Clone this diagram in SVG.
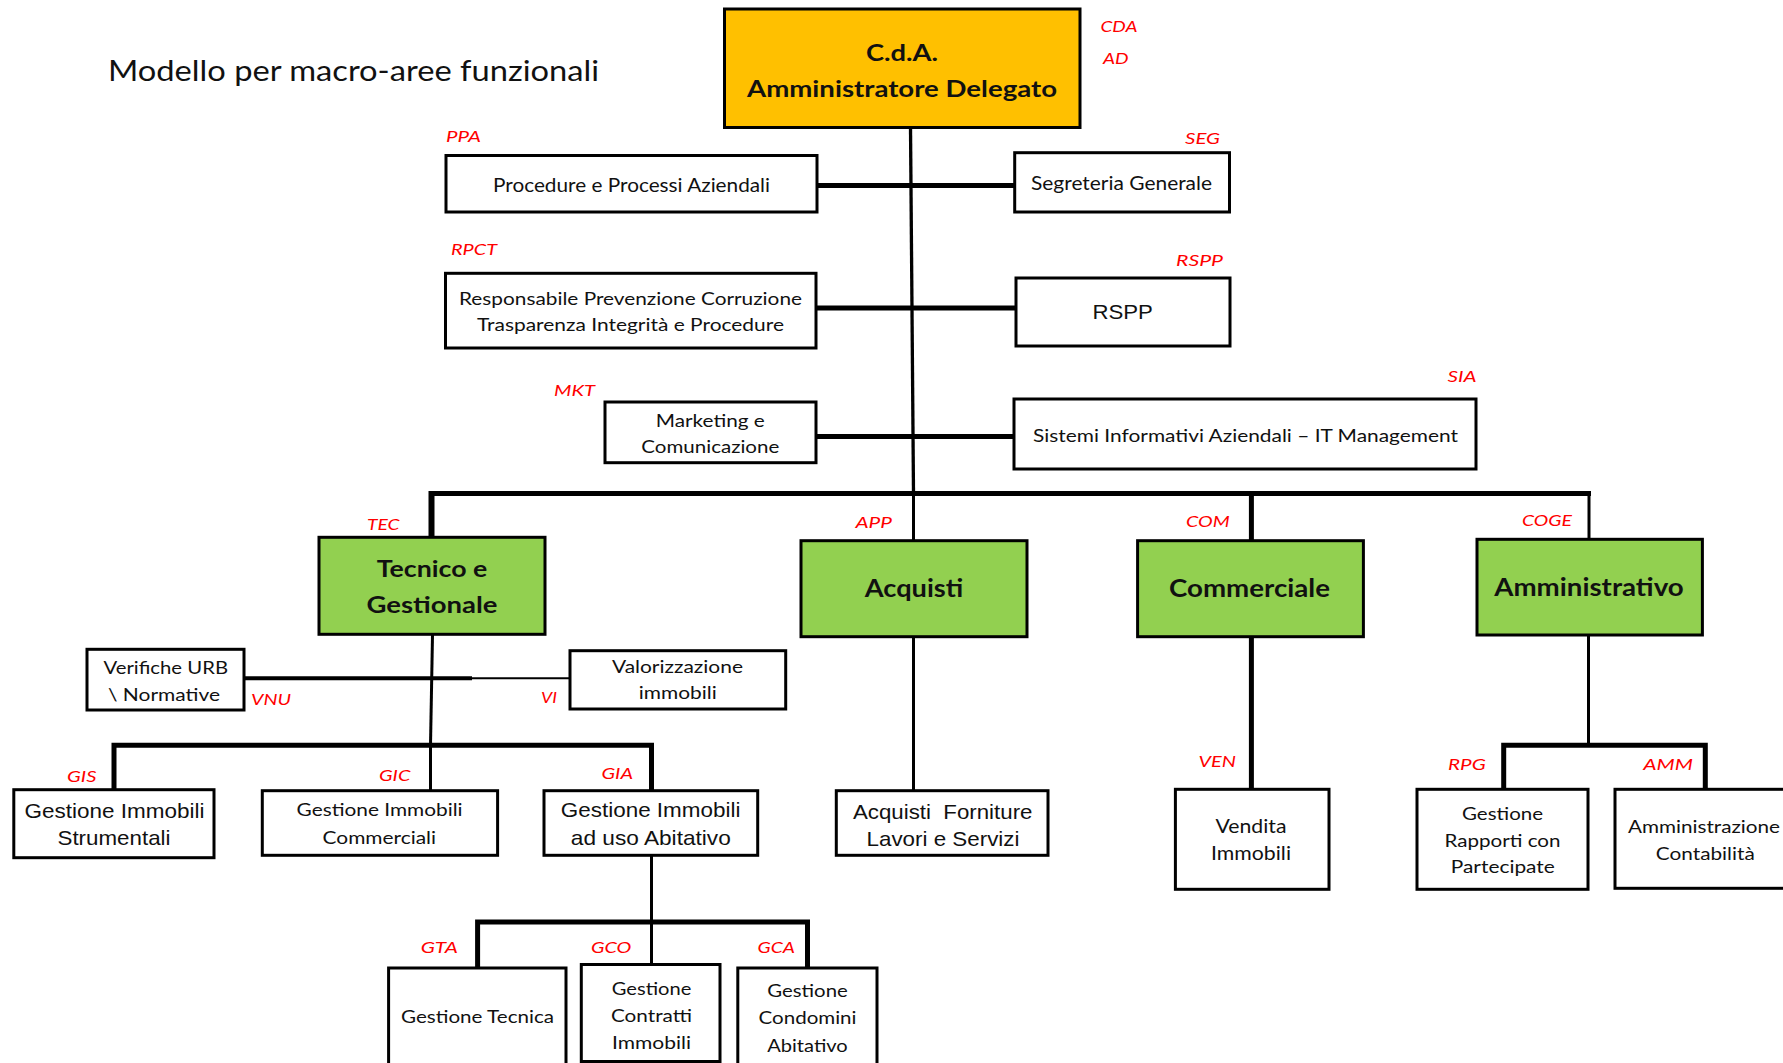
<svg xmlns="http://www.w3.org/2000/svg" width="1783" height="1063" viewBox="0 0 1783 1063">
<style>
.box{fill:#fff;stroke:#000;stroke-width:3}
.gold{fill:#FFC000;stroke:#000;stroke-width:3}
.green{fill:#92D050;stroke:#000;stroke-width:3}
.c{stroke:#000;fill:none;stroke-linejoin:miter;stroke-linecap:butt}
.t{font-family:Lato,"Open Sans","Liberation Sans",sans-serif;fill:#111;text-anchor:middle;lengthAdjust:spacingAndGlyphs}
.a{font-family:"Liberation Sans",Arial,sans-serif;fill:#111;text-anchor:middle}
.b{font-weight:bold}
.lbl{font-family:Lato,"Open Sans","Liberation Sans",sans-serif;font-style:italic;font-size:16px;fill:#FF0000}
</style>
<rect width="1783" height="1063" fill="#fff"/>
<text x="108" y="80.7" font-family="Lato, 'Open Sans', sans-serif" font-size="29" fill="#111" textLength="491" lengthAdjust="spacingAndGlyphs">Modello per macro-aree funzionali</text>

<g id="connectors">
  <path class="c" stroke-width="3.3" d="M910.5,127 L913.5,493"/>
  <path class="c" stroke-width="5" d="M816,185.5 H1015"/>
  <path class="c" stroke-width="5" d="M816,308 H1016"/>
  <path class="c" stroke-width="5" d="M816,436.5 H1014"/>
  <path class="c" stroke-width="5" d="M431,537 V493.5 H1591"/>
  <path class="c" stroke-width="4" d="M432.5,493.5 V537"/>
  <path class="c" stroke-width="3" d="M913.5,493.5 V541"/>
  <path class="c" stroke-width="5" d="M1251.4,493.5 V541"/>
  <path class="c" stroke-width="3" d="M1589,493.5 V539"/>
  <path class="c" stroke-width="3" d="M432.5,635 L430.5,745"/>
  <path class="c" stroke-width="4" d="M244,678.3 H472"/>
  <path class="c" stroke-width="2" stroke="#333" d="M472,678.3 H570"/>
  <path class="c" stroke-width="5" d="M114,790 V745.2 H651.5 V790"/>
  <path class="c" stroke-width="3" d="M430.5,745 V791"/>
  <path class="c" stroke-width="3" d="M651.5,855 V922"/>
  <path class="c" stroke-width="5" d="M477.6,968 V922 H807.5 V968"/>
  <path class="c" stroke-width="3" d="M651.5,922 V965"/>
  <path class="c" stroke-width="3" d="M913.5,637 V791"/>
  <path class="c" stroke-width="5" d="M1251.4,637 V789"/>
  <path class="c" stroke-width="3" d="M1588.5,635 V745"/>
  <path class="c" stroke-width="5" d="M1503.7,789 V745.2 H1705.3 V789"/>
</g>

<g id="cda">
  <rect class="gold" x="724.5" y="9" width="355.5" height="118.5"/>
  <text class="t b" x="902" y="60.7" font-size="23" textLength="72" lengthAdjust="spacingAndGlyphs">C.d.A.</text>
  <text class="t b" x="902" y="96.7" font-size="23" textLength="310" lengthAdjust="spacingAndGlyphs">Amministratore Delegato</text>
  <text class="lbl" x="1100.4" y="32" textLength="37" lengthAdjust="spacingAndGlyphs">CDA</text>
  <text class="lbl" x="1103" y="64" textLength="25.6" lengthAdjust="spacingAndGlyphs">AD</text>
</g>
<g id="ppa">
  <rect class="box" x="446" y="155.5" width="371" height="56.5"/>
  <text class="t" x="631.5" y="191.7" font-size="19" textLength="277" lengthAdjust="spacingAndGlyphs">Procedure e Processi Aziendali</text>
  <text class="lbl" x="446" y="141.7" textLength="35" lengthAdjust="spacingAndGlyphs">PPA</text>
</g>
<g id="seg">
  <rect class="box" x="1014.7" y="152.7" width="214.8" height="59.3"/>
  <text class="t" x="1121.5" y="190" font-size="18.5" textLength="181" lengthAdjust="spacingAndGlyphs">Segreteria Generale</text>
  <text class="lbl" x="1185" y="144" textLength="35" lengthAdjust="spacingAndGlyphs">SEG</text>
</g>
<g id="rpct">
  <rect class="box" x="445.5" y="273.3" width="370.5" height="74.7"/>
  <text class="t" x="630.5" y="305" font-size="17.5" textLength="343" lengthAdjust="spacingAndGlyphs">Responsabile Prevenzione Corruzione</text>
  <text class="t" x="630.5" y="330.7" font-size="17.5" textLength="307" lengthAdjust="spacingAndGlyphs">Trasparenza Integrità e Procedure</text>
  <text class="lbl" x="451" y="255" textLength="46" lengthAdjust="spacingAndGlyphs">RPCT</text>
</g>
<g id="rspp">
  <rect class="box" x="1016" y="278" width="214" height="68"/>
  <text class="a" x="1122.7" y="319" font-size="20" textLength="60.5" lengthAdjust="spacingAndGlyphs">RSPP</text>
  <text class="lbl" x="1176" y="265.7" textLength="47" lengthAdjust="spacingAndGlyphs">RSPP</text>
</g>
<g id="mkt">
  <rect class="box" x="605" y="402" width="211" height="60.7"/>
  <text class="t" x="710.3" y="426.7" font-size="17" textLength="109" lengthAdjust="spacingAndGlyphs">Marketing e</text>
  <text class="t" x="710.3" y="453.3" font-size="17" textLength="138" lengthAdjust="spacingAndGlyphs">Comunicazione</text>
  <text class="lbl" x="554" y="395.7" textLength="41" lengthAdjust="spacingAndGlyphs">MKT</text>
</g>
<g id="sia">
  <rect class="box" x="1014" y="399" width="462" height="70"/>
  <text class="t" x="1245.5" y="441.7" font-size="17.5" textLength="425" lengthAdjust="spacingAndGlyphs">Sistemi Informativi Aziendali – IT Management</text>
  <text class="lbl" x="1447.5" y="381.7" textLength="29" lengthAdjust="spacingAndGlyphs">SIA</text>
</g>
<g id="tec">
  <rect class="green" x="319" y="537.3" width="226" height="97"/>
  <text class="t b" x="432" y="577.3" font-size="23" textLength="110.5" lengthAdjust="spacingAndGlyphs">Tecnico e</text>
  <text class="t b" x="432" y="613.3" font-size="23" textLength="131" lengthAdjust="spacingAndGlyphs">Gestionale</text>
  <text class="lbl" x="367" y="530" textLength="32.5" lengthAdjust="spacingAndGlyphs">TEC</text>
</g>
<g id="app">
  <rect class="green" x="801" y="540.7" width="226" height="96"/>
  <text class="t b" x="914" y="597.3" font-size="24" textLength="98.5" lengthAdjust="spacingAndGlyphs">Acquisti</text>
  <text class="lbl" x="855.5" y="528.3" textLength="36.5" lengthAdjust="spacingAndGlyphs">APP</text>
</g>
<g id="com">
  <rect class="green" x="1137.6" y="540.7" width="225.8" height="96"/>
  <text class="t b" x="1249.5" y="597.3" font-size="24" textLength="161" lengthAdjust="spacingAndGlyphs">Commerciale</text>
  <text class="lbl" x="1186" y="526.7" textLength="43.7" lengthAdjust="spacingAndGlyphs">COM</text>
</g>
<g id="coge">
  <rect class="green" x="1477" y="539.3" width="225.4" height="95.7"/>
  <text class="t b" x="1589" y="595.7" font-size="24" textLength="189.5" lengthAdjust="spacingAndGlyphs">Amministrativo</text>
  <text class="lbl" x="1522" y="526" textLength="50" lengthAdjust="spacingAndGlyphs">COGE</text>
</g>
<g id="vnu">
  <rect class="box" x="87" y="649.3" width="157" height="60.7"/>
  <text class="t" x="165.8" y="674" font-size="17" textLength="124.5" lengthAdjust="spacingAndGlyphs">Verifiche URB</text>
  <text class="t" x="164" y="700.7" font-size="17" textLength="112" lengthAdjust="spacingAndGlyphs">\ Normative</text>
  <text class="lbl" x="251" y="705" textLength="40" lengthAdjust="spacingAndGlyphs">VNU</text>
</g>
<g id="vi">
  <rect class="box" x="570" y="650.7" width="215.7" height="58.3"/>
  <text class="t" x="677.5" y="673.3" font-size="16.5" textLength="131" lengthAdjust="spacingAndGlyphs">Valorizzazione</text>
  <text class="t" x="677.8" y="699.3" font-size="16.5" textLength="78" lengthAdjust="spacingAndGlyphs">immobili</text>
  <text class="lbl" x="541" y="703.3" textLength="16" lengthAdjust="spacingAndGlyphs">VI</text>
</g>
<g id="gis">
  <rect class="box" x="13.8" y="789.7" width="200.2" height="68"/>
  <text class="a" x="114.4" y="818.3" font-size="21" textLength="180" lengthAdjust="spacingAndGlyphs">Gestione Immobili</text>
  <text class="a" x="114" y="845" font-size="21" textLength="113" lengthAdjust="spacingAndGlyphs">Strumentali</text>
  <text class="lbl" x="67" y="781.7" textLength="29.4" lengthAdjust="spacingAndGlyphs">GIS</text>
</g>
<g id="gic">
  <rect class="box" x="262.3" y="790.7" width="235.3" height="64.6"/>
  <text class="t" x="379.6" y="816" font-size="17.5" textLength="166" lengthAdjust="spacingAndGlyphs">Gestione Immobili</text>
  <text class="t" x="379.3" y="844" font-size="17.5" textLength="113.5" lengthAdjust="spacingAndGlyphs">Commerciali</text>
  <text class="lbl" x="379" y="781" textLength="31.4" lengthAdjust="spacingAndGlyphs">GIC</text>
</g>
<g id="gia">
  <rect class="box" x="544" y="790.7" width="213.7" height="64.6"/>
  <text class="a" x="650.6" y="817.3" font-size="21" textLength="179.6" lengthAdjust="spacingAndGlyphs">Gestione Immobili</text>
  <text class="a" x="650.8" y="845" font-size="21" textLength="160" lengthAdjust="spacingAndGlyphs">ad uso Abitativo</text>
  <text class="lbl" x="601.5" y="779.3" textLength="31.5" lengthAdjust="spacingAndGlyphs">GIA</text>
</g>
<g id="afl">
  <rect class="box" x="836.3" y="790.7" width="211.7" height="64.6"/>
  <text class="a" x="942.7" y="819" font-size="21" textLength="179.5" lengthAdjust="spacingAndGlyphs" xml:space="preserve">Acquisti  Forniture</text>
  <text class="a" x="943" y="845.7" font-size="21" textLength="153" lengthAdjust="spacingAndGlyphs">Lavori e Servizi</text>
</g>
<g id="ven">
  <rect class="box" x="1175.4" y="789.3" width="153.6" height="100"/>
  <text class="t" x="1251" y="833.3" font-size="19" textLength="71" lengthAdjust="spacingAndGlyphs">Vendita</text>
  <text class="t" x="1251" y="860" font-size="19" textLength="80" lengthAdjust="spacingAndGlyphs">Immobili</text>
  <text class="lbl" x="1198.5" y="766.7" textLength="37.5" lengthAdjust="spacingAndGlyphs">VEN</text>
</g>
<g id="rpg">
  <rect class="box" x="1417" y="789.3" width="171" height="100"/>
  <text class="t" x="1502.5" y="820" font-size="18" textLength="81" lengthAdjust="spacingAndGlyphs">Gestione</text>
  <text class="t" x="1502.5" y="846.7" font-size="18" textLength="116" lengthAdjust="spacingAndGlyphs">Rapporti con</text>
  <text class="t" x="1502.8" y="873.3" font-size="18" textLength="104" lengthAdjust="spacingAndGlyphs">Partecipate</text>
  <text class="lbl" x="1448" y="770" textLength="37.7" lengthAdjust="spacingAndGlyphs">RPG</text>
</g>
<g id="amm">
  <rect class="box" x="1615" y="789.3" width="200" height="99"/>
  <text class="t" x="1704" y="833.3" font-size="18" textLength="152" lengthAdjust="spacingAndGlyphs">Amministrazione</text>
  <text class="t" x="1705.3" y="860" font-size="18" textLength="99" lengthAdjust="spacingAndGlyphs">Contabilità</text>
  <text class="lbl" x="1643.3" y="770" textLength="49.7" lengthAdjust="spacingAndGlyphs">AMM</text>
</g>
<g id="gta">
  <rect class="box" x="388.6" y="968" width="177.4" height="120"/>
  <text class="t" x="477.5" y="1023.3" font-size="18" textLength="153" lengthAdjust="spacingAndGlyphs">Gestione Tecnica</text>
  <text class="lbl" x="420.7" y="953.3" textLength="37.3" lengthAdjust="spacingAndGlyphs">GTA</text>
</g>
<g id="gco">
  <rect class="box" x="581.3" y="964.5" width="138.7" height="97"/>
  <text class="t" x="651.5" y="995" font-size="18" textLength="79.5" lengthAdjust="spacingAndGlyphs">Gestione</text>
  <text class="t" x="651.5" y="1021.7" font-size="18" textLength="81" lengthAdjust="spacingAndGlyphs">Contratti</text>
  <text class="t" x="651.5" y="1049.3" font-size="18" textLength="79" lengthAdjust="spacingAndGlyphs">Immobili</text>
  <text class="lbl" x="591" y="953.3" textLength="40.4" lengthAdjust="spacingAndGlyphs">GCO</text>
</g>
<g id="gca">
  <rect class="box" x="737.8" y="968" width="139.2" height="120"/>
  <text class="t" x="807.5" y="997.3" font-size="18" textLength="80.5" lengthAdjust="spacingAndGlyphs">Gestione</text>
  <text class="t" x="807.5" y="1024" font-size="18" textLength="98" lengthAdjust="spacingAndGlyphs">Condomini</text>
  <text class="t" x="807.5" y="1051.7" font-size="18" textLength="80.5" lengthAdjust="spacingAndGlyphs">Abitativo</text>
  <text class="lbl" x="757.6" y="953.3" textLength="37.4" lengthAdjust="spacingAndGlyphs">GCA</text>
</g>
</svg>
